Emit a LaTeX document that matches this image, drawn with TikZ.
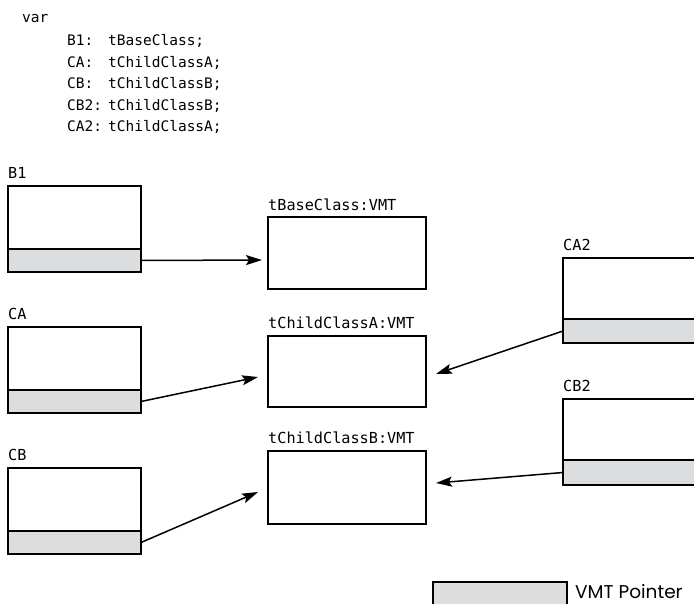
\documentclass[tikz,border=0pt]{standalone}
\usepackage{fontspec}
\newfontfamily\monof{DejaVu Sans Mono}
\newfontfamily\legf{Poppins}
\usetikzlibrary{arrows.meta,calc}
\definecolor{ptrgray}{RGB}{220,221,222}
\begin{document}
\begin{tikzpicture}[x=1pt,y=-1pt,
  objbox/.style={draw, line width=1.6pt, inner sep=0, outer sep=0, anchor=north west},
  ptrcell/.style={objbox, fill=ptrgray},
  decl/.style={font=\monof\fontsize{14.5}{17}\selectfont, anchor=base west, inner sep=0},
  lbl/.style={font=\monof\fontsize{15.2}{18}\selectfont, anchor=base west, inner sep=0},
  arr/.style={line width=1.5pt, -{Stealth[length=16pt,width=10pt,inset=3pt]}}]
\useasboundingbox (0,0) rectangle (694,603);
\clip (0,0) rectangle (694,603);
% declarations
\node[decl] (var) at (22,22) {var};
\node[decl] (d1) at (67,45) {B1:};   \node[decl] (t1) at (108,45) {tBaseClass;};
\node[decl] (d2) at (67,67) {CA:};   \node[decl] (t2) at (108,67) {tChildClassA;};
\node[decl] (d3) at (67,88) {CB:};   \node[decl] (t3) at (108,88) {tChildClassB;};
\node[decl] (d4) at (67,110) {CB2:}; \node[decl] (t4) at (108,110) {tChildClassB;};
\node[decl] (d5) at (67,131) {CA2:}; \node[decl] (t5) at (108,131) {tChildClassA;};
% left objects
\node[objbox, minimum width=133pt, minimum height=63pt] (b1) at (8,186) {};
\node[ptrcell, minimum width=133pt, minimum height=23pt] (b1p) at (b1.south west) {};
\node[lbl] (b1l) at (8,178) {B1};
\node[objbox, minimum width=133pt, minimum height=63pt] (ca) at (8,327) {};
\node[ptrcell, minimum width=133pt, minimum height=23pt] (cap) at (ca.south west) {};
\node[lbl] (cal) at (8,319) {CA};
\node[objbox, minimum width=133pt, minimum height=63pt] (cb) at (8,468) {};
\node[ptrcell, minimum width=133pt, minimum height=23pt] (cbp) at (cb.south west) {};
\node[lbl] (cbl) at (8,460) {CB};
% VMTs
\node[objbox, minimum width=158pt, minimum height=72pt] (vb) at (268,217) {};
\node[lbl] (vbl) at (268,210) {tBaseClass:VMT};
\node[objbox, minimum width=158pt, minimum height=71pt] (va) at (268,336) {};
\node[lbl] (val) at (268,328) {tChildClassA:VMT};
\node[objbox, minimum width=158pt, minimum height=73pt] (vcb) at (268,451) {};
\node[lbl] (vcbl) at (268,443) {tChildClassB:VMT};
% right objects
\node[objbox, minimum width=200pt, minimum height=61pt] (ca2) at (563,258) {};
\node[ptrcell, minimum width=200pt, minimum height=24pt] (ca2p) at (ca2.south west) {};
\node[lbl] (ca2l) at (563,250) {CA2};
\node[objbox, minimum width=200pt, minimum height=61pt] (cb2) at (563,399) {};
\node[ptrcell, minimum width=200pt, minimum height=25pt] (cb2p) at (cb2.south west) {};
\node[lbl] (cb2l) at (563,391) {CB2};
% arrows
\draw[arr] (b1p.east) -- ($(vb.west)+(-6,7)$);
\draw[arr] (cap.east) -- ($(va.west)+(-10,5.5)$);
\draw[arr] (cbp.east) -- ($(vcb.west)+(-10,4.5)$);
\draw[arr] (ca2p.west) -- ($(va.east)+(10,2.5)$);
\draw[arr] (cb2p.west) -- ($(vcb.east)+(10,-4.5)$);
% legend
\node[ptrcell, minimum width=134pt, minimum height=40pt] (leg) at (433,582) {};
\node[anchor=base west, inner sep=0, font=\legf\fontsize{18.5}{21}\selectfont] (legl) at (575,598) {VMT Pointer};
\end{tikzpicture}
\end{document}
